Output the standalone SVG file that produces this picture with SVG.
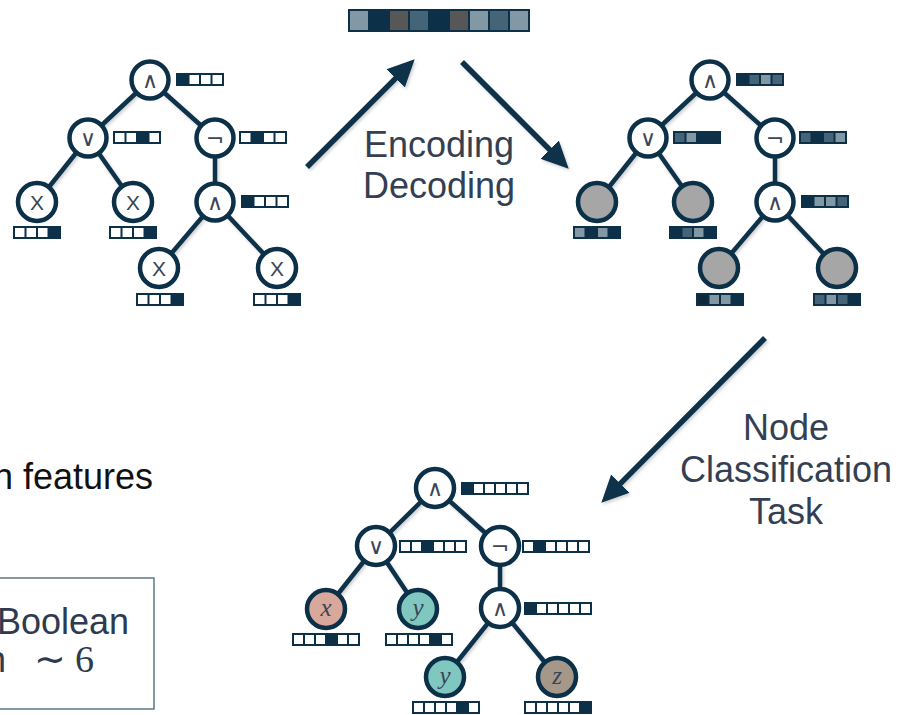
<svg xmlns="http://www.w3.org/2000/svg" width="899" height="715" viewBox="0 0 899 715">
<style>
.edge{stroke:#0b3048;stroke-width:4.5;fill:none}
.nd{stroke:#0b3048;stroke-width:4.5;fill:#fff}
.gr{fill:#a6a6a6}
.op{font-family:"DejaVu Sans",sans-serif;font-size:22px;fill:#3a4556;text-anchor:middle}
.lf{font-family:"Liberation Sans",Arial,sans-serif;font-size:21px;fill:#3a4556;text-anchor:middle}
.var{font-family:"Liberation Serif","Times New Roman",serif;font-style:italic;font-size:25px;fill:#3a4556;text-anchor:middle}
.lbl{font-family:"Liberation Sans",Arial,sans-serif;font-size:36px;fill:#343f52;text-anchor:middle}
.bd{fill:#0b3048}
.W{fill:#fff}.L{fill:#8398a5}.M{fill:#466477}.G{fill:#575757}.V{fill:#10293a}
.arrow{stroke:#0b3048;stroke-width:5.5;fill:none;marker-end:url(#ah)}
</style>
<defs>
<marker id="ah" markerUnits="userSpaceOnUse" markerWidth="28" markerHeight="28" refX="12" refY="13" orient="auto" viewBox="0 0 28 26">
<path d="M0,0 L27,13 L0,26 z" fill="#0b3048"/>
</marker>
<filter id="sh" x="-10%" y="-10%" width="130%" height="130%">
<feDropShadow dx="1.5" dy="2" stdDeviation="1.5" flood-color="#000" flood-opacity="0.18"/>
</filter>
</defs>

<!-- connectors -->
<g id="connectors" filter="url(#sh)">
<path class="edge" d="M150,80 L88,138 M150,80 L215,138 M88,138 L37,202 M88,138 L133,202 M215,138 L215,202 M215,202 L159,268 M215,202 L277,268"/>
<path class="edge" d="M710,80 L648,138 M710,80 L775,138 M648,138 L597,202 M648,138 L693,202 M775,138 L775,202 M775,202 L719,268 M775,202 L837,268"/>
<path class="edge" d="M435,488 L376,546 M435,488 L500,546 M376,546 L326,609 M376,546 L418,609 M500,546 L500,608 M500,608 L445,677 M500,608 L557,677"/>
<path class="arrow" d="M307,167 L404.1,69.9"/>
<path class="arrow" d="M462,62 L558.1,158.1"/>
<path class="arrow" d="M765,338 L611.9,492.1"/>
</g>

<!-- encoding vector -->
<g id="encoding">
<rect class="bd" x="348" y="9" width="182" height="23"/>
<rect class="L" x="350" y="11" width="18" height="19"/>
<rect class="G" x="390" y="11" width="18" height="19"/>
<rect class="M" x="410" y="11" width="18" height="19"/>
<rect class="G" x="450" y="11" width="18" height="19"/>
<rect class="L" x="470" y="11" width="18" height="19"/>
<rect class="M" x="490" y="11" width="18" height="19"/>
<rect class="L" x="510" y="11" width="18" height="19"/>
</g>

<!-- top-left tree -->
<g id="tl-root"><circle class="nd" cx="150" cy="80" r="18.5"/><text class="op" x="150" y="88">∧</text>
<rect class="bd" x="176" y="73" width="48" height="13"/><rect class="W" x="189.5" y="75" width="9.5" height="9"/><rect class="W" x="201" y="75" width="9.5" height="9"/><rect class="W" x="212.5" y="75" width="9.5" height="9"/></g>
<g id="tl-or"><circle class="nd" cx="88" cy="138" r="18.5"/><text class="op" x="88" y="146">∨</text>
<rect class="bd" x="113" y="131" width="48" height="13"/><rect class="W" x="115" y="133" width="9.5" height="9"/><rect class="W" x="126.5" y="133" width="9.5" height="9"/><rect class="W" x="149.5" y="133" width="9.5" height="9"/></g>
<g id="tl-not"><circle class="nd" cx="215" cy="138" r="18.5"/><text class="op" x="215" y="146">¬</text>
<rect class="bd" x="239" y="131" width="48" height="13"/><rect class="W" x="241" y="133" width="9.5" height="9"/><rect class="W" x="264" y="133" width="9.5" height="9"/><rect class="W" x="275.5" y="133" width="9.5" height="9"/></g>
<g id="tl-x1"><circle class="nd" cx="37" cy="202" r="19"/><text class="lf" x="37" y="209.5">X</text>
<rect class="bd" x="13" y="226" width="48" height="13"/><rect class="W" x="15" y="228" width="9.5" height="9"/><rect class="W" x="26.5" y="228" width="9.5" height="9"/><rect class="W" x="38" y="228" width="9.5" height="9"/></g>
<g id="tl-x2"><circle class="nd" cx="133" cy="202" r="19"/><text class="lf" x="133" y="209.5">X</text>
<rect class="bd" x="109" y="226" width="48" height="13"/><rect class="W" x="111" y="228" width="9.5" height="9"/><rect class="W" x="122.5" y="228" width="9.5" height="9"/><rect class="W" x="134" y="228" width="9.5" height="9"/></g>
<g id="tl-and"><circle class="nd" cx="215" cy="202" r="18.5"/><text class="op" x="215" y="210">∧</text>
<rect class="bd" x="241" y="195" width="48" height="13"/><rect class="W" x="254.5" y="197" width="9.5" height="9"/><rect class="W" x="266" y="197" width="9.5" height="9"/><rect class="W" x="277.5" y="197" width="9.5" height="9"/></g>
<g id="tl-x3"><circle class="nd" cx="159" cy="268" r="19"/><text class="lf" x="159" y="275.5">X</text>
<rect class="bd" x="136" y="293" width="48" height="13"/><rect class="W" x="138" y="295" width="9.5" height="9"/><rect class="W" x="149.5" y="295" width="9.5" height="9"/><rect class="W" x="161" y="295" width="9.5" height="9"/></g>
<g id="tl-x4"><circle class="nd" cx="277" cy="268" r="19"/><text class="lf" x="277" y="275.5">X</text>
<rect class="bd" x="253" y="293" width="48" height="13"/><rect class="W" x="255" y="295" width="9.5" height="9"/><rect class="W" x="266.5" y="295" width="9.5" height="9"/><rect class="W" x="278" y="295" width="9.5" height="9"/></g>

<!-- top-right tree -->
<g id="tr-root"><circle class="nd" cx="710" cy="80" r="18.5"/><text class="op" x="710" y="88">∧</text>
<rect class="bd" x="736" y="73" width="48" height="13"/><rect class="M" x="749.5" y="75" width="9.5" height="9"/><rect class="L" x="761" y="75" width="9.5" height="9"/><rect class="M" x="772.5" y="75" width="9.5" height="9"/></g>
<g id="tr-or"><circle class="nd" cx="648" cy="138" r="18.5"/><text class="op" x="648" y="146">∨</text>
<rect class="bd" x="673" y="131" width="48" height="13"/><rect class="M" x="675" y="133" width="9.5" height="9"/><rect class="L" x="686.5" y="133" width="9.5" height="9"/></g>
<g id="tr-not"><circle class="nd" cx="775" cy="138" r="18.5"/><text class="op" x="775" y="146">¬</text>
<rect class="bd" x="799" y="131" width="48" height="13"/><rect class="M" x="801" y="133" width="9.5" height="9"/><rect class="M" x="824" y="133" width="9.5" height="9"/><rect class="L" x="835.5" y="133" width="9.5" height="9"/></g>
<g id="tr-l1"><circle class="nd gr" cx="597" cy="202" r="19"/>
<rect class="bd" x="573" y="226" width="48" height="13"/><rect class="L" x="575" y="228" width="9.5" height="9"/><rect class="L" x="598" y="228" width="9.5" height="9"/></g>
<g id="tr-l2"><circle class="nd gr" cx="693" cy="202" r="19"/>
<rect class="bd" x="669" y="226" width="48" height="13"/><rect class="M" x="682.5" y="228" width="9.5" height="9"/><rect class="L" x="694" y="228" width="9.5" height="9"/></g>
<g id="tr-and"><circle class="nd" cx="775" cy="202" r="18.5"/><text class="op" x="775" y="210">∧</text>
<rect class="bd" x="801" y="195" width="48" height="13"/><rect class="L" x="814.5" y="197" width="9.5" height="9"/><rect class="L" x="826" y="197" width="9.5" height="9"/><rect class="M" x="837.5" y="197" width="9.5" height="9"/></g>
<g id="tr-l3"><circle class="nd gr" cx="719" cy="268" r="19"/>
<rect class="bd" x="696" y="293" width="48" height="13"/><rect class="V" x="698" y="295" width="9.5" height="9"/><rect class="L" x="709.5" y="295" width="9.5" height="9"/><rect class="L" x="721" y="295" width="9.5" height="9"/></g>
<g id="tr-l4"><circle class="nd gr" cx="837" cy="268" r="19"/>
<rect class="bd" x="813" y="293" width="48" height="13"/><rect class="M" x="815" y="295" width="9.5" height="9"/><rect class="L" x="826.5" y="295" width="9.5" height="9"/><rect class="M" x="838" y="295" width="9.5" height="9"/></g>

<!-- bottom tree -->
<g id="b-root"><circle class="nd" cx="435" cy="488" r="19"/><text class="op" x="435" y="496">∧</text>
<rect class="bd" x="461" y="482" width="68" height="13"/><rect class="W" x="474" y="484" width="9" height="9"/><rect class="W" x="485" y="484" width="9" height="9"/><rect class="W" x="496" y="484" width="9" height="9"/><rect class="W" x="507" y="484" width="9" height="9"/><rect class="W" x="518" y="484" width="9" height="9"/></g>
<g id="b-or"><circle class="nd" cx="376" cy="546" r="19"/><text class="op" x="376" y="554">∨</text>
<rect class="bd" x="399" y="540" width="68" height="13"/><rect class="W" x="401" y="542" width="9" height="9"/><rect class="W" x="412" y="542" width="9" height="9"/><rect class="W" x="434" y="542" width="9" height="9"/><rect class="W" x="445" y="542" width="9" height="9"/><rect class="W" x="456" y="542" width="9" height="9"/></g>
<g id="b-not"><circle class="nd" cx="500" cy="546" r="19"/><text class="op" x="500" y="554">¬</text>
<rect class="bd" x="522" y="540" width="68" height="13"/><rect class="W" x="524" y="542" width="9" height="9"/><rect class="W" x="546" y="542" width="9" height="9"/><rect class="W" x="557" y="542" width="9" height="9"/><rect class="W" x="568" y="542" width="9" height="9"/><rect class="W" x="579" y="542" width="9" height="9"/></g>
<g id="b-x"><circle class="nd" cx="326" cy="609" r="19" style="fill:#d9a89c"/><text class="var" x="326" y="616">x</text>
<rect class="bd" x="292" y="633" width="68" height="13"/><rect class="W" x="294" y="635" width="9" height="9"/><rect class="W" x="305" y="635" width="9" height="9"/><rect class="W" x="316" y="635" width="9" height="9"/><rect class="W" x="338" y="635" width="9" height="9"/><rect class="W" x="349" y="635" width="9" height="9"/></g>
<g id="b-y1"><circle class="nd" cx="418" cy="609" r="19" style="fill:#7fc7bf"/><text class="var" x="418" y="616">y</text>
<rect class="bd" x="385" y="633" width="68" height="13"/><rect class="W" x="387" y="635" width="9" height="9"/><rect class="W" x="398" y="635" width="9" height="9"/><rect class="W" x="409" y="635" width="9" height="9"/><rect class="W" x="420" y="635" width="9" height="9"/><rect class="W" x="442" y="635" width="9" height="9"/></g>
<g id="b-and"><circle class="nd" cx="500" cy="608" r="19"/><text class="op" x="500" y="616">∧</text>
<rect class="bd" x="524" y="602" width="68" height="13"/><rect class="W" x="537" y="604" width="9" height="9"/><rect class="W" x="548" y="604" width="9" height="9"/><rect class="W" x="559" y="604" width="9" height="9"/><rect class="W" x="570" y="604" width="9" height="9"/><rect class="W" x="581" y="604" width="9" height="9"/></g>
<g id="b-y2"><circle class="nd" cx="445" cy="677" r="19" style="fill:#7fc7bf"/><text class="var" x="445" y="684">y</text>
<rect class="bd" x="412" y="701" width="68" height="13"/><rect class="W" x="414" y="703" width="9" height="9"/><rect class="W" x="425" y="703" width="9" height="9"/><rect class="W" x="436" y="703" width="9" height="9"/><rect class="W" x="447" y="703" width="9" height="9"/><rect class="W" x="469" y="703" width="9" height="9"/></g>
<g id="b-z"><circle class="nd" cx="557" cy="677" r="19" style="fill:#a69889"/><text class="var" x="557" y="684">z</text>
<rect class="bd" x="524" y="701" width="68" height="13"/><rect class="W" x="526" y="703" width="9" height="9"/><rect class="W" x="537" y="703" width="9" height="9"/><rect class="W" x="548" y="703" width="9" height="9"/><rect class="W" x="559" y="703" width="9" height="9"/><rect class="W" x="570" y="703" width="9" height="9"/></g>

<!-- labels -->
<g id="label-encdec">
<text class="lbl" x="439" y="157">Encoding</text>
<text class="lbl" x="439" y="198">Decoding</text>
</g>
<g id="label-task">
<text class="lbl" x="786" y="440">Node</text>
<text class="lbl" x="786" y="482">Classification</text>
<text class="lbl" x="786" y="524">Task</text>
</g>
<g id="left-text">
<text x="153" y="489" font-family="Liberation Sans,Arial,sans-serif" font-size="36" fill="#111" text-anchor="end">n features</text>
</g>
<g id="info-box">
<rect x="-4" y="578" width="158" height="131" fill="#fff" stroke="#5d7787" stroke-width="1.5"/>
<text x="129" y="634" font-family="Liberation Sans,Arial,sans-serif" font-size="36" fill="#2e3a4d" text-anchor="end">Boolean</text>
<text x="6" y="672" font-family="Liberation Sans,Arial,sans-serif" font-size="36" fill="#2e3a4d" text-anchor="end">n</text>
<text x="94" y="672" font-family="Liberation Serif,Times New Roman,serif" font-size="38" fill="#2e3a4d" text-anchor="end">∼ 6</text>
</g>
</svg>
